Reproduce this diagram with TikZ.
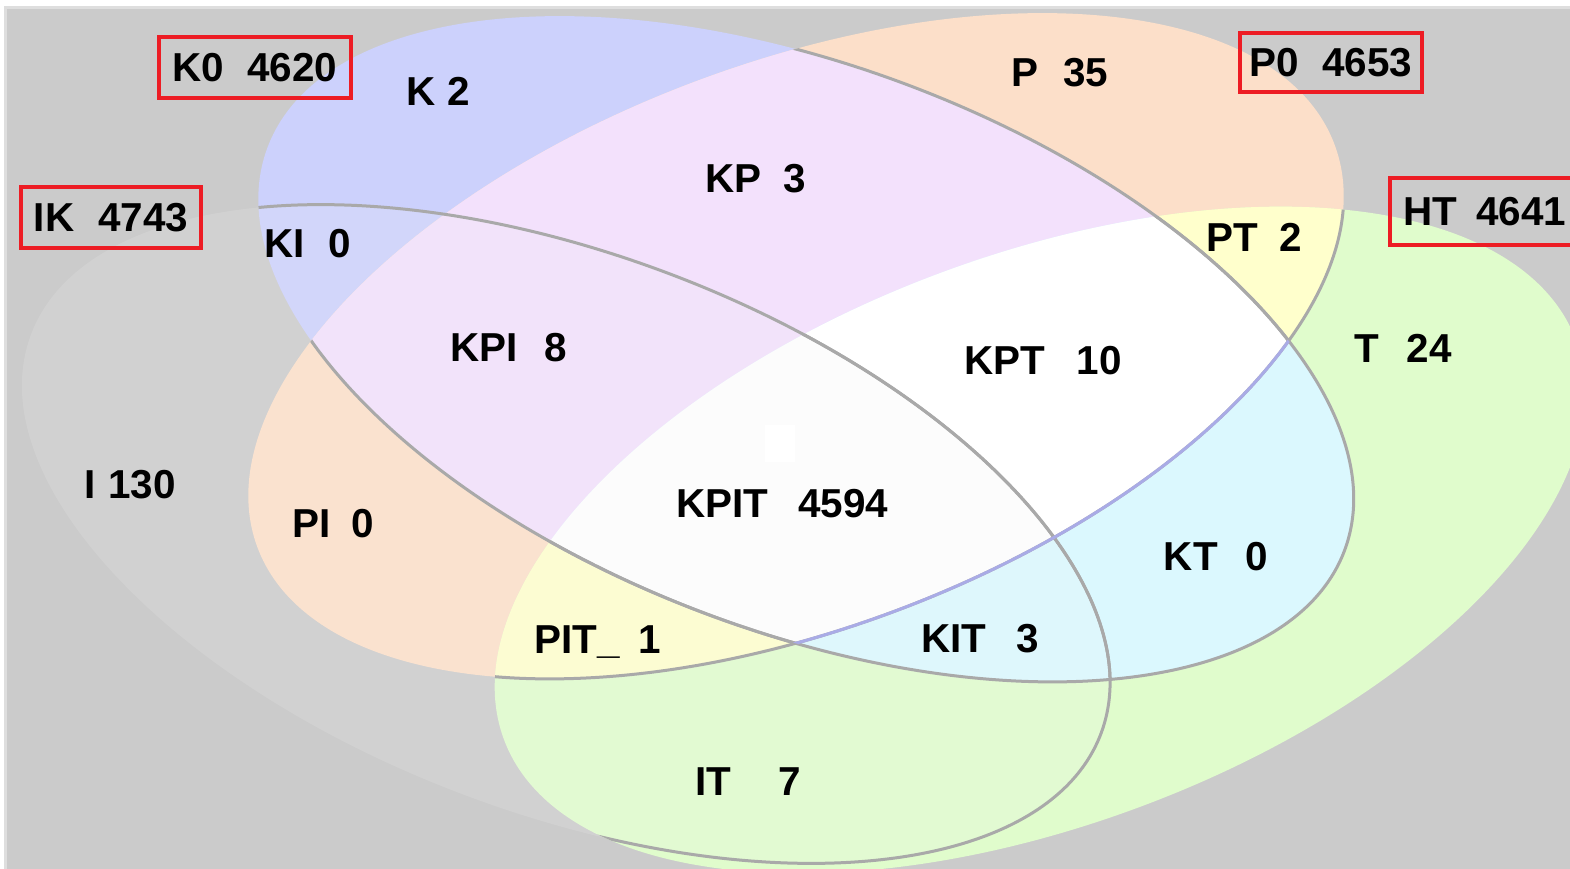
\documentclass[tikz,border=0pt]{standalone}
\usepackage{fontspec}
\setmainfont{Liberation Sans}
\definecolor{bgray}{HTML}{CBCBCB}
\definecolor{kblue}{HTML}{CCD1FC}
\definecolor{ppeach}{HTML}{FCDFC9}
\definecolor{tgreen}{HTML}{E0FCCC}
\definecolor{kplav}{HTML}{F3E1FC}
\definecolor{ktcyan}{HTML}{DBF8FE}
\definecolor{ptyel}{HTML}{FFFFCC}
\definecolor{boxred}{HTML}{ED1C24}
\definecolor{rimgray}{HTML}{A9A9A9}
\definecolor{rimblue}{HTML}{A9ABE6}
% the four sets, in pixel units
\def\setK{[rotate around={-20.5:(806,349)}] (806,349) ellipse [x radius=575, y radius=283]}
\def\setP{[rotate around={20.5:(796,346)}] (796,346) ellipse [x radius=575, y radius=283]}
\def\setI{[rotate around={-20.4:(566,534)}] (566,534) ellipse [x radius=571, y radius=280]}
\def\setT{[rotate around={20.4:(1040,540)}] (1040,540) ellipse [x radius=572, y radius=285]}
\begin{document}
\begin{tikzpicture}[x=0.1mm, y=-0.1mm,
    count/.style={font=\fontsize{11.5}{13}\selectfont\bfseries, anchor=base, inner sep=0pt},
    redbox/.style={draw=boxred, line width=0.4mm, inner sep=0pt,
      font=\fontsize{11.5}{13}\selectfont\bfseries},
    rim/.style={draw=rimgray, line width=0.3mm}]
  \useasboundingbox (0,0) rectangle (1570,869);
  \fill[white] (0,0) rectangle (1570,869);
  \begin{scope}
    \clip (4,7) rectangle (1570,869);
    \fill[bgray] (4,7) rectangle (1570,869);
    \draw[white!87!black, line width=0.5mm] (4,869) -- (4,7) -- (1570,7);
    % one colour per set
    \fill[kblue] \setK;
    \fill[ppeach] \setP;
    \fill[tgreen] \setT;
    % overlaps
    \begin{scope}
      \clip \setP;
      \fill[ptyel] \setT;
    \end{scope}
    \begin{scope}
      \clip \setK;
      \fill[kplav] \setP;
      \fill[ktcyan] \setT;
      \clip \setP;
      \fill[white] \setT;
    \end{scope}
    \fill[white!95!black, fill opacity=0.16] \setI;
    \fill[white] (765,425) rectangle (795,462);
    % outlines
    \begin{scope}
      \clip \setP;
      \draw[rim] \setK;
    \end{scope}
    \begin{scope}
      \clip \setK;
      \draw[rim] \setI;
    \end{scope}
    \begin{scope}
      \clip \setT;
      \draw[rim] \setK;
      \draw[rim] \setI;
      \draw[rim] \setP;
      \clip \setK;
      \draw[rim, draw=rimblue] \setP;
    \end{scope}
  \end{scope}

  % totals
  \node[redbox, minimum width=19.2mm, minimum height=6.1mm] (k0) at (255,67.5) {K0\hspace{2.3mm}4620};
  \node[redbox, minimum width=18mm, minimum height=6.1mm] (ik) at (111,217.5) {IK\hspace{2.4mm}4743};
  \node[redbox, minimum width=18.2mm, minimum height=5.9mm] (p0) at (1331,62.5) {P0\hspace{2.3mm}4653};
  \node[redbox, minimum width=19mm, minimum height=6.7mm] (ht) at (1485,211.5) {HT\hspace{1.9mm}4641};

  % region counts
  \node[count] (k) at (438,106) {K\hspace{1.2mm}2};
  \node[count] (ki) at (308,258) {KI\hspace{2.4mm}0};
  \node[count] (kp) at (756,193) {KP\hspace{2.2mm}3};
  \node[count] (p) at (1060,87) {P\hspace{2.5mm}35};
  \node[count] (pt) at (1254,252) {PT\hspace{2.1mm}2};
  \node[count] (t) at (1403,363) {T\hspace{2.8mm}24};
  \node[count] (kpt) at (1043,375) {KPT\hspace{3.2mm}10};
  \node[count] (kpi) at (509,362) {KPI\hspace{2.7mm}8};
  \node[count] (i) at (130,498) {I\hspace{1.3mm}130};
  \node[count] (pi) at (333,537) {PI\hspace{2.1mm}0};
  \node[count] (kpit) at (782,517) {KPIT\hspace{3mm}4594};
  \node[count] (kt) at (1216,570) {KT\hspace{2.8mm}0};
  \node[count] (pit) at (598,653) {PIT\_\hspace{1.9mm}1};
  \node[count] (kit) at (980,652) {KIT\hspace{3mm}3};
  \node[count] (it) at (748,795) {IT\hspace{4.7mm}7};
\end{tikzpicture}
\end{document}
